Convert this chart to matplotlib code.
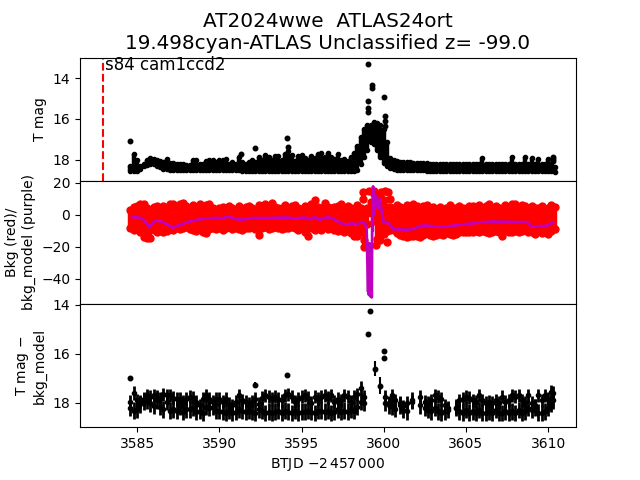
import matplotlib
matplotlib.use('Agg')
import matplotlib.pyplot as plt

#%% values
t_band = [3584.6, 3584.8, 3585.0, 3585.2, 3585.4, 3585.6, 3585.8, 3586.0, 3586.2, 3586.4,
          3586.6, 3586.8, 3587.0, 3587.2, 3587.4, 3587.6, 3587.8, 3588.0, 3588.2, 3588.4,
          3588.6, 3588.8, 3589.0, 3589.2, 3589.4, 3589.6, 3589.8, 3590.0, 3590.2, 3590.4,
          3590.6, 3590.8, 3591.0, 3591.2, 3591.4, 3591.6, 3591.8, 3592.0, 3592.2, 3592.4,
          3592.6, 3592.8, 3593.0, 3593.2, 3593.4, 3593.6, 3593.8, 3594.0, 3594.2, 3594.4,
          3594.6, 3594.8, 3595.0, 3595.2, 3595.4, 3595.6, 3595.8, 3596.0, 3596.2, 3596.4,
          3596.6, 3596.8, 3597.0, 3597.2, 3597.4, 3597.6, 3597.8, 3598.0, 3598.2, 3598.4,
          3598.6, 3598.8, 3599.0, 3599.2, 3599.4, 3599.6, 3599.8, 3600.0, 3600.2, 3600.4,
          3600.6, 3600.8, 3601.0, 3601.2, 3601.4, 3601.6, 3601.8, 3602.0, 3602.2, 3602.4,
          3602.6, 3602.8, 3603.0, 3603.2, 3603.4, 3603.6, 3603.8, 3604.0, 3604.2, 3604.4,
          3604.6, 3604.8, 3605.0, 3605.2, 3605.4, 3605.6, 3605.8, 3606.0, 3606.2, 3606.4,
          3606.6, 3606.8, 3607.0, 3607.2, 3607.4, 3607.6, 3607.8, 3608.0, 3608.2, 3608.4,
          3608.6, 3608.8, 3609.0, 3609.2, 3609.4, 3609.6, 3609.8, 3610.0, 3610.2, 3610.4]
mag_bright = [18.3, 17.7, 18.0, 18.3, 18.2, 18.0, 17.92, 17.95, 18.0, 18.04,
              18.08, 17.95, 18.14, 18.17, 18.19, 18.2, 18.22, 18.23, 18.24, 18.0,
              18.0, 18.22, 18.2, 18.05, 18.0, 18.0, 18.1, 18.0, 18.02, 17.95,
              18.2, 18.1, 18.2, 17.85, 18.1, 18.2, 18.1, 18.0, 18.1, 17.85,
              18.0, 17.75, 17.85, 18.0, 17.8, 17.8, 18.0, 17.7, 17.55, 17.75,
              18.05, 17.8, 17.75, 17.9, 18.0, 17.8, 17.9, 17.7, 17.65, 17.85,
              17.65, 17.85, 17.95, 17.7, 18.0, 17.95, 18.05, 17.85, 17.65, 17.3,
              16.9, 16.5, 16.3, 16.3, 16.15, 16.2, 16.3, 16.5, 17.1, 17.9,
              18.0, 18.05, 18.08, 18.1, 18.12, 18.12, 18.14, 18.15, 18.16, 18.16,
              18.16, 18.18, 18.18, 18.18, 18.18, 18.2, 18.2, 18.2, 18.2, 18.2,
              18.2, 18.2, 18.2, 18.2, 18.2, 18.2, 18.2, 17.9, 18.2, 18.2,
              18.2, 18.2, 18.2, 18.2, 18.2, 18.2, 17.85, 18.2, 18.2, 18.2,
              17.85, 18.2, 17.9, 18.2, 17.95, 18.2, 18.2, 17.95, 18.2, 18.35]
mag_faint = [18.52, 18.52, 18.52, 18.45, 18.3, 18.25, 18.22, 18.22, 18.28, 18.35,
             18.42, 18.45, 18.48, 18.48, 18.5, 18.5, 18.5, 18.5, 18.5, 18.5,
             18.5, 18.5, 18.5, 18.5, 18.5, 18.5, 18.5, 18.5, 18.5, 18.5,
             18.5, 18.5, 18.5, 18.5, 18.52, 18.52, 18.52, 18.52, 18.52, 18.52,
             18.52, 18.52, 18.52, 18.52, 18.52, 18.52, 18.52, 18.52, 18.52, 18.52,
             18.52, 18.52, 18.52, 18.52, 18.52, 18.52, 18.52, 18.52, 18.52, 18.52,
             18.52, 18.52, 18.52, 18.52, 18.52, 18.52, 18.52, 18.52, 18.52, 18.48,
             18.2, 17.85, 17.5, 17.1, 17.2, 17.5, 17.85, 18.15, 18.3, 18.4,
             18.45, 18.48, 18.48, 18.48, 18.5, 18.5, 18.5, 18.5, 18.5, 18.5,
             18.52, 18.52, 18.52, 18.52, 18.52, 18.52, 18.52, 18.52, 18.52, 18.52,
             18.52, 18.52, 18.52, 18.52, 18.52, 18.52, 18.52, 18.52, 18.52, 18.52,
             18.52, 18.52, 18.52, 18.52, 18.52, 18.52, 18.52, 18.52, 18.52, 18.52,
             18.52, 18.52, 18.52, 18.52, 18.52, 18.52, 18.52, 18.52, 18.52, 18.58]
t_outlier = [3584.6, 3591.3, 3592.2, 3594.1, 3594.2, 3599.06, 3599.27, 3599.27, 3599.07, 3599.07,
             3599.07, 3600.03, 3600.1, 3600.1, 3600.1, 3610.3, 3610.3, 3610.3]
mag_outlier = [17.07, 17.7, 17.4, 16.93, 17.35, 13.33, 14.34, 14.5, 15.1, 15.46,
               15.66, 14.94, 15.85, 16.08, 16.34, 17.85, 17.95, 18.05]

bkg_hi = [3.0, 5.0, 5.5, 6.5, 7.0, 4.5, 3.0, 5.0, 5.5, 4.0,
          5.5, 4.5, 7.0, 6.5, 4.5, 7.0, 7.5, 5.5, 4.5, 6.0,
          5.0, 6.5, 4.0, 6.0, 6.5, 4.0, 3.0, 4.0, 5.0, 3.5,
          5.5, 4.0, 3.0, 5.5, 3.5, 5.0, 5.5, 4.0, 3.0, 6.0,
          4.0, 7.0, 4.5, 7.5, 5.0, 4.0, 4.5, 6.0, 4.0, 5.5,
          6.0, 4.0, 3.5, 5.5, 5.0, 6.5, 9.0, 5.0, 4.0, 7.5,
          5.0, 4.0, 5.0, 5.5, 6.5, 3.0, 5.5, 4.0, 3.5, 6.0,
          4.5, 2.0, 4.0, 8.0, 13.0, 12.0, 12.0, 9.0, 5.0, 5.0,
          4.0, 6.0, 5.0, 4.0, 6.0, 5.0, 6.5, 5.5, 4.0, 5.5,
          6.0, 4.0, 5.0, 3.5, 5.0, 3.5, 4.5, 6.0, 4.5, 4.0,
          5.5, 4.0, 3.5, 5.5, 5.5, 4.0, 6.0, 4.0, 5.5, 6.5,
          4.5, 5.5, 4.5, 4.0, 6.0, 5.0, 7.0, 6.5, 4.5, 6.0,
          5.5, 3.5, 5.5, 4.0, 4.0, 5.5, 3.0, 4.5, 6.0, 5.0]
bkg_lo = [-8.0, -9.5, -8.0, -10.5, -14.0, -14.5, -14.5, -9.5, -11.0, -10.0,
          -10.5, -10.0, -9.0, -9.5, -8.0, -9.0, -8.0, -7.5, -9.0, -9.5,
          -10.0, -8.0, -10.5, -11.5, -9.0, -8.5, -9.0, -8.0, -9.5, -8.0,
          -7.5, -9.0, -8.0, -9.0, -9.5, -8.0, -8.0, -7.5, -9.0, -12.5,
          -8.0, -7.5, -9.0, -8.0, -7.5, -8.5, -9.0, -8.0, -8.5, -7.5,
          -8.0, -9.5, -8.5, -11.0, -13.0, -8.5, -9.5, -8.0, -9.5, -7.5,
          -9.0, -8.0, -9.5, -10.0, -9.0, -10.5, -10.0, -11.5, -13.0, -13.5,
          -10.5, -16.0, -6.0, 1.0, -4.0, -15.0, -13.5, -12.0, -10.0, -9.5,
          -9.5, -11.5, -12.5, -13.5, -14.0, -13.0, -13.0, -13.5, -14.0, -12.5,
          -11.5, -12.5, -13.0, -12.5, -12.0, -12.5, -11.5, -12.0, -12.5, -12.0,
          -11.0, -11.0, -11.0, -10.5, -11.0, -10.0, -11.0, -10.0, -11.0, -11.5,
          -10.5, -10.0, -11.0, -13.0, -10.0, -10.5, -11.0, -10.0, -11.0, -10.0,
          -9.5, -10.5, -11.0, -12.0, -10.0, -11.5, -10.0, -12.0, -10.0, -9.0]
t_bkg_extra = [3598.75, 3598.75, 3599.1, 3599.4, 3599.85, 3600.05, 3600.25, 3600.35, 3598.8, 3599.5, 3599.75, 3600.2]
bkg_extra = [14.0, 10.0, 15.0, 15.0, 14.0, 15.0, 14.0, 10.0, -20.0, -19.0, -16.0, -17.0]

t_model = [3584.7, 3585.0, 3585.2, 3585.4, 3585.75, 3586.1, 3586.5, 3587.17, 3588.0, 3588.8,
           3589.84, 3590.2, 3590.5, 3591.0, 3591.45, 3591.9, 3593.0, 3594.1, 3594.6, 3595.2,
           3595.5, 3595.8, 3596.1, 3596.5, 3596.9, 3597.3, 3597.75, 3598.05, 3598.35, 3598.55,
           3598.85, 3598.96, 3599.05, 3599.08, 3599.1, 3599.12, 3599.14, 3599.16, 3599.2, 3599.24,
           3599.27, 3599.3, 3599.33, 3599.35, 3599.4, 3599.5, 3599.65, 3599.75, 3600.0, 3600.3,
           3600.57, 3601.6, 3602.4, 3603.6, 3604.6, 3605.85, 3606.6, 3608.7, 3609.0, 3609.9,
           3610.3]
bkg_model = [-1.5, -1.5, -2.1, -3.0, -7.9, -3.5, -4.2, -8.0, -4.8, -2.7,
             -1.9, -2.2, -1.0, -2.7, -3.1, -2.0, -2.0, -1.7, -2.2, -1.7,
             -2.7, -1.5, -3.1, -1.7, -2.1, -4.8, -6.3, -5.2, -6.3, -4.6,
             -4.8, -9.4, -48.0, -17.7, -50.0, -20.0, -49.0, -18.0, -51.0, -25.0,
             -51.5, -2.0, -10.0, 17.7, 0.0, 12.0, 4.0, 10.0, -5.0, -5.0,
             -9.0, -9.3, -6.6, -7.6, -6.3, -4.8, -4.2, -4.6, -7.3, -6.9,
             -4.8]

t_sub = [3584.6, 3584.8, 3585.0, 3585.2, 3585.4, 3585.6, 3585.8, 3586.0, 3586.2, 3586.4,
         3586.6, 3586.8, 3587.0, 3587.2, 3587.4, 3587.6, 3587.8, 3588.0, 3588.2, 3588.4,
         3588.6, 3588.8, 3589.0, 3589.2, 3589.4, 3589.6, 3589.8, 3590.0, 3590.2, 3590.4,
         3590.6, 3590.8, 3591.0, 3591.2, 3591.4, 3591.6, 3591.8, 3592.0, 3592.2, 3592.4,
         3592.6, 3592.8, 3593.0, 3593.2, 3593.4, 3593.6, 3593.8, 3594.0, 3594.2, 3594.4,
         3594.6, 3594.8, 3595.0, 3595.2, 3595.4, 3595.6, 3595.8, 3596.0, 3596.2, 3596.4,
         3596.6, 3596.8, 3597.0, 3597.2, 3597.4, 3597.6, 3597.8, 3598.0, 3598.2, 3598.4,
         3598.6, 3598.8, 3600.1, 3600.3, 3600.5, 3600.7, 3601.0, 3601.2, 3601.4, 3601.7,
         3602.2, 3602.5, 3602.7, 3602.9, 3603.1, 3603.3, 3603.5, 3603.7, 3603.9, 3604.4,
         3604.6, 3604.8, 3605.0, 3605.2, 3605.4, 3605.6, 3605.8, 3606.0, 3606.2, 3606.4,
         3606.6, 3606.8, 3607.0, 3607.2, 3607.4, 3607.6, 3607.8, 3608.0, 3608.2, 3608.4,
         3608.6, 3608.8, 3609.0, 3609.2, 3609.4, 3609.6, 3609.8, 3610.0, 3610.2, 3610.3]
sub_bright = [17.95, 17.6, 17.9, 17.95, 17.85, 17.7, 17.75, 17.7, 17.75, 17.85,
              17.65, 17.7, 17.7, 17.8, 17.85, 17.85, 17.95, 17.85, 17.75, 17.8,
              17.95, 18.1, 17.85, 17.7, 17.85, 17.95, 17.85, 17.85, 17.95, 17.85,
              18.05, 18.1, 17.95, 17.7, 17.9, 17.95, 18.05, 17.95, 17.85, 18.05,
              17.8, 17.7, 17.75, 17.85, 17.75, 17.85, 17.9, 17.7, 17.65, 17.75,
              17.95, 17.85, 17.75, 17.7, 17.8, 18.0, 17.75, 17.85, 17.75, 17.7,
              17.8, 17.7, 17.95, 17.85, 17.9, 17.7, 17.75, 17.95, 17.75, 17.65,
              17.4, 17.75, 17.75, 18.0, 17.7, 17.9, 18.0, 18.15, 18.0, 17.95,
              17.75, 17.95, 18.0, 17.9, 17.7, 17.75, 17.85, 18.1, 18.2, 18.2,
              17.9, 17.85, 17.75, 17.8, 17.9, 17.95, 17.7, 17.9, 18.0, 17.95,
              18.0, 17.9, 18.0, 17.75, 17.95, 17.9, 17.7, 17.75, 17.7, 17.9,
              18.0, 17.7, 18.0, 18.1, 17.7, 17.9, 17.7, 17.85, 17.55, 17.6]
sub_faint = [18.22, 18.32, 18.27, 18.07, 17.95, 17.9, 18.02, 18.12, 17.9, 18.17,
             18.27, 17.97, 18.32, 18.27, 18.32, 18.17, 18.37, 18.27, 18.27, 18.22,
             18.37, 18.32, 18.42, 18.17, 18.22, 18.17, 18.32, 18.32, 18.37, 18.42,
             18.32, 18.42, 18.37, 18.27, 18.32, 18.37, 18.32, 18.37, 18.42, 18.27,
             18.32, 18.42, 18.37, 18.42, 18.37, 18.32, 18.42, 18.32, 18.37, 18.42,
             18.32, 18.42, 18.37, 18.37, 18.32, 18.37, 18.42, 18.32, 18.32, 18.37,
             18.32, 18.42, 18.37, 18.27, 18.37, 18.32, 18.37, 18.27, 18.32, 18.17,
             17.95, 18.0, 18.0, 18.1, 18.15, 18.25, 18.1, 18.3, 18.35, 17.9,
             18.1, 18.2, 18.3, 18.35, 18.2, 18.35, 18.4, 18.35, 18.3, 18.2,
             18.35, 18.42, 18.3, 18.4, 18.35, 18.42, 18.3, 18.4, 18.42, 18.35,
             18.4, 18.3, 18.4, 18.42, 18.35, 18.4, 18.35, 18.42, 18.3, 18.4,
             18.35, 18.2, 18.3, 18.2, 18.4, 18.42, 18.35, 18.2, 18.05, 17.9]
t_sub_peak = [3584.6, 3592.2, 3594.1, 3599.15, 3599.04, 3600.0, 3600.0, 3599.45, 3599.75]
mag_sub_peak = [16.98, 17.27, 16.86, 14.25, 15.18, 15.88, 16.16, 16.6, 17.3]
err_sub_peak = [0.05, 0.1, 0.05, 0.05, 0.05, 0.08, 0.08, 0.3, 0.35]
err_sub_bright = 0.27
err_sub_faint = 0.34

title_text = 'AT2024wwe  ATLAS24ort\n19.498cyan-ATLAS Unclassified z= -99.0'
sector_text = 's84 cam1ccd2'
t_sector = 3582.93

#%% plot
fig, (ax1, ax2, ax3) = plt.subplots(3, 1, sharex=True, figsize=(6.4, 4.8))
fig.subplots_adjust(hspace=0)

ax1.set_title(title_text, fontsize=14.4)
ax1.vlines(t_band, mag_bright, mag_faint, color='k', lw=3.2)
ax1.plot(t_band, mag_bright, 'k.', ms=6)
ax1.plot(t_band, mag_faint, 'k.', ms=6)
ax1.plot(t_outlier, mag_outlier, 'k.', ms=6.5)
ax1.axvline(t_sector, color='r', ls='--')
ax1.text(3583.05, 13.6, sector_text, fontsize=12, va='baseline')
ax1.set_ylim(19.02, 13.0)
ax1.set_yticks([14, 16, 18])
ax1.set_ylabel('T mag')

ax2.vlines(t_band, bkg_lo, bkg_hi, color='r', lw=3.2)
ax2.plot(t_band, bkg_hi, 'r.', ms=10)
ax2.plot(t_band, bkg_lo, 'r.', ms=10)
ax2.plot(t_bkg_extra, bkg_extra, 'r.', ms=10)
ax2.plot(t_model, bkg_model, color='#bf00bf', lw=2)
ax2.set_ylim(-55.6, 21.2)
ax2.set_yticks([-40, -20, 0, 20])
ax2.set_ylabel('Bkg (red)/\nbkg_model (purple)')

ax3.errorbar(t_sub, sub_bright, yerr=err_sub_bright, fmt='k.', ms=6, elinewidth=2)
ax3.errorbar(t_sub, sub_faint, yerr=err_sub_faint, fmt='k.', ms=6, elinewidth=2)
ax3.errorbar(t_sub_peak, mag_sub_peak, yerr=err_sub_peak, fmt='k.', ms=6.5)
ax3.set_ylim(19.0, 13.96)
ax3.set_yticks([14, 16, 18])
ax3.set_ylabel('T mag $-$\nbkg_model')
ax3.set_xlabel(r'BTJD $-2\,457\,000$')
ax3.set_xlim(3581.53, 3611.69)
ax3.set_xticks([3585, 3590, 3595, 3600, 3605, 3610])

fig.savefig('out.png', dpi=100)
